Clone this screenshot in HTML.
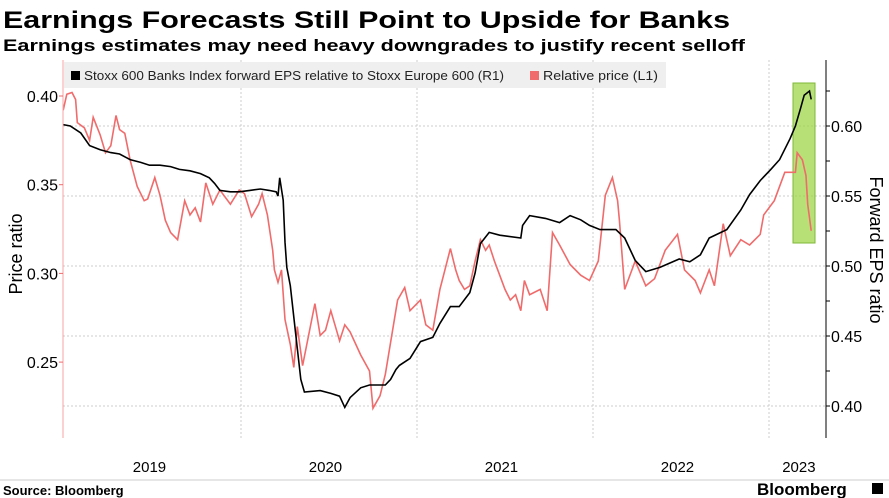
<!DOCTYPE html>
<html><head><meta charset="utf-8"><style>
body{margin:0;background:#fff;width:889px;height:498px;overflow:hidden;font-family:"Liberation Sans",sans-serif}
svg{display:block}
</style></head><body>
<svg id="c" width="889" height="498">
<text x="3" y="28" font-size="24" font-weight="bold" fill="#000" textLength="727" lengthAdjust="spacingAndGlyphs">Earnings Forecasts Still Point to Upside for Banks</text>
<text x="3" y="51" font-size="17" font-weight="bold" fill="#000" textLength="742" lengthAdjust="spacingAndGlyphs">Earnings estimates may need heavy downgrades to justify recent selloff</text>
<g id="grid"></g>
<rect x="64" y="62" width="602" height="26" fill="#efefef"/>
<rect x="71" y="71" width="9" height="9" fill="#000"/>
<text x="84" y="80" font-size="12.5" fill="#222" textLength="420" lengthAdjust="spacingAndGlyphs">Stoxx 600 Banks Index forward EPS relative to Stoxx Europe 600 (R1)</text>
<rect x="530" y="71" width="9" height="9" fill="#f06b6b"/>
<text x="543" y="80" font-size="12.5" fill="#222" textLength="115" lengthAdjust="spacingAndGlyphs">Relative price (L1)</text>
<rect x="793" y="83" width="22" height="160" fill="#9fd54a" fill-opacity="0.75" stroke="#7fb83a"/>
<g id="series"></g>
<g id="axes"></g>
<text transform="translate(22,254) rotate(-90)" text-anchor="middle" font-size="18" fill="#000">Price ratio</text>
<text transform="translate(870,250) rotate(90)" text-anchor="middle" font-size="18" fill="#000">Forward EPS ratio</text>
<line x1="0" y1="480" x2="889" y2="480" stroke="#ccc"/>
<text x="3" y="495" font-size="13" font-weight="bold" fill="#000">Source: Bloomberg</text>
<text x="757" y="495" font-size="17" font-weight="bold" fill="#000">Bloomberg</text>
<rect x="872" y="483" width="11" height="11" fill="#000"/>
</svg>
<script>
const epsDates=[2018.99,2019.03,2019.09,2019.14,2019.20,2019.26,2019.31,2019.37,2019.43,2019.48,2019.54,2019.60,2019.65,2019.71,2019.77,2019.82,2019.85,2019.88,2019.94,2019.99,2020.05,2020.11,2020.16,2020.20,2020.21,2020.22,2020.24,2020.25,2020.26,2020.28,2020.31,2020.34,2020.36,2020.45,2020.51,2020.56,2020.59,2020.62,2020.68,2020.73,2020.82,2020.85,2020.88,2020.90,2020.96,2021.02,2021.09,2021.13,2021.19,2021.24,2021.30,2021.33,2021.36,2021.41,2021.47,2021.59,2021.60,2021.64,2021.73,2021.81,2021.87,2021.93,2021.98,2022.04,2022.13,2022.18,2022.24,2022.30,2022.38,2022.49,2022.55,2022.61,2022.66,2022.76,2022.84,2022.89,2022.95,2023.01,2023.06,2023.12,2023.15,2023.18,2023.20,2023.23,2023.24];
const epsValues=[0.601,0.600,0.595,0.586,0.583,0.581,0.580,0.576,0.574,0.572,0.572,0.571,0.569,0.568,0.566,0.563,0.559,0.554,0.553,0.553,0.554,0.555,0.554,0.553,0.550,0.563,0.547,0.517,0.499,0.486,0.452,0.419,0.410,0.411,0.409,0.407,0.399,0.406,0.413,0.415,0.415,0.419,0.426,0.429,0.434,0.446,0.449,0.459,0.471,0.471,0.481,0.495,0.516,0.524,0.522,0.520,0.529,0.536,0.534,0.531,0.536,0.533,0.529,0.526,0.526,0.520,0.504,0.496,0.499,0.505,0.503,0.508,0.520,0.526,0.540,0.551,0.561,0.569,0.576,0.591,0.600,0.613,0.622,0.625,0.619];
const priceDates=[2018.99,2019.01,2019.04,2019.06,2019.07,2019.11,2019.14,2019.16,2019.20,2019.23,2019.26,2019.29,2019.31,2019.34,2019.37,2019.41,2019.45,2019.47,2019.51,2019.54,2019.57,2019.60,2019.64,2019.68,2019.71,2019.74,2019.77,2019.80,2019.84,2019.88,2019.94,2019.99,2020.02,2020.06,2020.10,2020.12,2020.15,2020.18,2020.19,2020.21,2020.23,2020.25,2020.28,2020.30,2020.32,2020.35,2020.42,2020.45,2020.48,2020.51,2020.56,2020.59,2020.62,2020.68,2020.73,2020.75,2020.79,2020.82,2020.89,2020.93,2020.96,2021.02,2021.05,2021.09,2021.13,2021.19,2021.22,2021.24,2021.27,2021.30,2021.33,2021.36,2021.39,2021.41,2021.44,2021.47,2021.50,2021.53,2021.56,2021.59,2021.61,2021.64,2021.70,2021.74,2021.77,2021.81,2021.87,2021.93,2021.98,2022.03,2022.07,2022.11,2022.14,2022.15,2022.18,2022.24,2022.30,2022.35,2022.41,2022.48,2022.52,2022.58,2022.61,2022.66,2022.69,2022.74,2022.78,2022.84,2022.89,2022.95,2022.97,2023.03,2023.09,2023.15,2023.16,2023.19,2023.21,2023.22,2023.24];
const priceValues=[0.392,0.401,0.402,0.398,0.385,0.382,0.375,0.388,0.378,0.368,0.372,0.389,0.381,0.379,0.364,0.349,0.341,0.342,0.354,0.344,0.330,0.323,0.319,0.341,0.333,0.337,0.329,0.351,0.339,0.347,0.339,0.347,0.345,0.332,0.339,0.345,0.333,0.313,0.302,0.295,0.302,0.274,0.260,0.247,0.270,0.248,0.283,0.265,0.268,0.279,0.262,0.271,0.267,0.254,0.245,0.224,0.231,0.243,0.285,0.292,0.279,0.285,0.271,0.268,0.291,0.314,0.302,0.296,0.291,0.293,0.307,0.319,0.313,0.316,0.307,0.299,0.291,0.285,0.288,0.279,0.296,0.288,0.291,0.279,0.323,0.316,0.305,0.299,0.296,0.307,0.344,0.354,0.341,0.330,0.291,0.307,0.293,0.297,0.313,0.322,0.302,0.296,0.289,0.302,0.293,0.328,0.310,0.319,0.316,0.322,0.333,0.341,0.357,0.357,0.368,0.364,0.355,0.339,0.324];
const leftTicks=[0.25,0.30,0.35,0.40];
const rightTicks=[0.40,0.45,0.50,0.55,0.60];
const rightMinor=[0.425,0.475,0.525,0.575,0.625];
const yearBounds=[2020,2021,2022,2023];
const yearLabels=["2019","2020","2021","2022","2023"];
const yearLabelPos=[2019.48,2020.48,2021.48,2022.48,2023.17];

const X0=63,X1=826,YT=60,YB=438;
const xS=d=>65+(d-2019)*176;
const yL=v=>96+(0.40-v)/0.05*88.7;
const yR=v=>126+(0.60-v)/0.05*70;
const NS='http://www.w3.org/2000/svg';
function mk(tag,attrs,parent){const e=document.createElementNS(NS,tag);for(const k in attrs)e.setAttribute(k,attrs[k]);document.getElementById(parent).appendChild(e);return e;}

rightTicks.forEach(v=>{
  const l=mk('line',{x1:X0,x2:X1,y1:yR(v),y2:yR(v),stroke:'#ccc','stroke-dasharray':'2,2'},'grid');
  
  
});
yearBounds.forEach(d=>{
  const l=mk('line',{x1:xS(d),x2:xS(d),y1:YT,y2:YB,stroke:'#ccc','stroke-dasharray':'2,2'},'grid');
  
  
});
const pPrice=mk('path',{d:priceDates.map((d,i)=>(i?'L':'M')+xS(d).toFixed(1)+','+yL(priceValues[i]).toFixed(1)).join(''),fill:'none',stroke:'#f06b6b','stroke-width':1.6},'series');


const pEps=mk('path',{d:epsDates.map((d,i)=>(i?'L':'M')+xS(d).toFixed(1)+','+yR(epsValues[i]).toFixed(1)).join(''),fill:'none',stroke:'#000','stroke-width':1.6},'series');



const la=mk('line',{x1:X0,x2:X0,y1:YT,y2:YB,stroke:'#f7a3a3'},'axes');


leftTicks.forEach(v=>{
  const t=mk('line',{x1:X0-4,x2:X0,y1:yL(v),y2:yL(v),stroke:'#f06b6b'},'axes');
  
  
  const tx=mk('text',{x:X0-5,y:yL(v)+6,'text-anchor':'end','font-size':16,fill:'#000'},'axes');
  tx.textContent=v.toFixed(2);
  
  
});
const ra=mk('line',{x1:X1,x2:X1,y1:YT,y2:YB,stroke:'#000'},'axes');


rightTicks.forEach(v=>{
  const t=mk('line',{x1:X1,x2:X1+4,y1:yR(v),y2:yR(v),stroke:'#000'},'axes');
  
  
  const tx=mk('text',{x:X1+5,y:yR(v)+6,'font-size':16,fill:'#000'},'axes');
  tx.textContent=v.toFixed(2);
  
  
});
rightMinor.forEach(v=>{
  const t=mk('line',{x1:X1,x2:X1+4,y1:yR(v),y2:yR(v),stroke:'#000'},'axes');
  
  
});
yearLabels.forEach((s,i)=>{
  const tx=mk('text',{x:xS(yearLabelPos[i]),y:472,'text-anchor':'middle','font-size':15,fill:'#000'},'axes');
  tx.textContent=s;
  
  
});
</script>
</body></html>
